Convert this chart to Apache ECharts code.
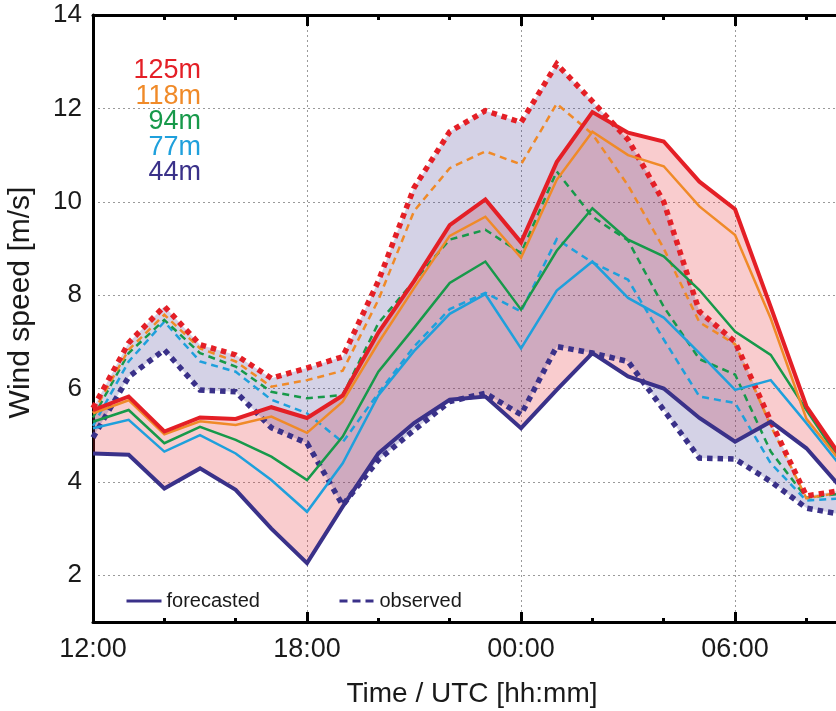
<!DOCTYPE html>
<html>
<head>
<meta charset="utf-8">
<script src="https://cdn.jsdelivr.net/npm/echarts@6/dist/echarts.min.js"></script>
<style>
html, body { margin: 0; padding: 0; background: #fff; }
#main { width: 836px; height: 711px; }
</style>
</head>
<body>
<div id="main"></div>
<script>
// time stamps (UTC), hourly
var times = ['12:00', '13:00', '14:00', '15:00', '16:00', '17:00', '18:00', '19:00', '20:00', '21:00', '22:00',
   '23:00', '00:00', '01:00', '02:00', '03:00', '04:00', '05:00', '06:00', '07:00', '08:00', '09:00'];
var yTicks = [2, 4, 6, 8, 10, 12, 14];
var heights = ['125m', '118m', '94m', '77m', '44m'];
var colors = ['#e41f26', '#f08a28', '#17994a', '#1fa0dc', '#3a3189'];

// forecasted wind speed [m/s]
var fc125 = [5.54, 5.83, 5.08, 5.38, 5.35, 5.6, 5.37, 5.85, 7.2, 8.3, 9.5, 10.05, 9.13, 10.85, 11.92, 11.48, 11.29, 10.43, 9.84, 7.75, 5.62, 4.5];
var fc118 = [5.47, 5.75, 5.02, 5.3, 5.22, 5.4, 5.05, 5.72, 6.98, 8.15, 9.27, 9.68, 8.8, 10.47, 11.5, 11.0, 10.76, 9.9, 9.29, 7.5, 5.35, 4.4];
var fc94 = [5.29, 5.54, 4.83, 5.18, 4.9, 4.54, 4.04, 4.97, 6.36, 7.3, 8.26, 8.72, 7.69, 8.95, 9.86, 9.19, 8.83, 8.11, 7.22, 6.72, 5.54, 4.4];
var fc77 = [5.15, 5.33, 4.65, 5.0, 4.61, 4.04, 3.36, 4.4, 5.85, 6.8, 7.6, 8.02, 6.86, 8.1, 8.72, 7.94, 7.52, 6.76, 5.97, 6.18, 5.26, 4.3];
var fc44 = [4.61, 4.58, 3.86, 4.29, 3.83, 3.0, 2.26, 3.47, 4.61, 5.26, 5.76, 5.83, 5.15, 5.97, 6.76, 6.26, 6.0, 5.37, 4.86, 5.29, 4.72, 3.85];

// observed wind speed [m/s]
var obs125 = [5.58, 6.98, 7.76, 6.94, 6.72, 6.22, 6.44, 6.68, 8.3, 10.3, 11.5, 11.95, 11.7, 12.95, 12.15, 11.33, 10.0, 7.65, 7.0, 5.3, 3.7, 3.82];
var obs118 = [5.48, 6.83, 7.58, 6.86, 6.58, 6.04, 6.18, 6.38, 7.9, 9.8, 10.72, 11.08, 10.8, 12.1, 11.45, 10.35, 9.0, 7.42, 6.95, 5.2, 3.65, 3.78];
var obs94 = [5.38, 6.76, 7.47, 6.76, 6.47, 5.93, 5.79, 5.86, 7.4, 8.3, 9.19, 9.4, 8.9, 10.65, 9.68, 9.17, 7.75, 6.63, 6.3, 4.65, 3.66, 3.75];
var obs77 = [5.2, 6.58, 7.43, 6.58, 6.36, 5.76, 5.47, 4.85, 5.9, 6.9, 7.7, 8.05, 7.65, 9.2, 8.7, 8.33, 7.05, 5.83, 5.69, 4.4, 3.6, 3.65];
var obs44 = [4.95, 6.25, 6.83, 5.97, 5.93, 5.16, 4.83, 3.5, 4.47, 5.11, 5.72, 5.9, 5.44, 6.9, 6.76, 6.58, 5.54, 4.51, 4.49, 4.01, 3.44, 3.3];

var FONT = 'Liberation Sans, Arial, sans-serif';

// hours after 12:00
var hrs = times.map(function (t) {
   var h = parseInt(t.split(':')[0], 10);
   return (h + 12) % 24;
});

function pairs(vals) {
   return vals.map(function (v, i) { return [hrs[i], v]; });
}

// shaded band between two curves
function band(upper, lower, fill) {
   return {
      type: 'custom',
      silent: true,
      data: [[hrs[0], lower[0]]],
      renderItem: function (params, api) {
         var pts = [];
         for (var i = 0; i < hrs.length; i++) pts.push(api.coord([hrs[i], upper[i]]));
         for (var j = hrs.length - 1; j >= 0; j--) pts.push(api.coord([hrs[j], lower[j]]));
         return { type: 'polygon', shape: { points: pts }, style: { fill: fill } };
      }
   };
}

function line(name, vals, color, width, dash) {
   return {
      name: name,
      type: 'line',
      data: pairs(vals),
      symbol: 'none',
      silent: true,
      lineStyle: { color: color, width: width, type: dash || 'solid', cap: 'butt', join: 'miter' }
   };
}

function timeLabel(v) {
   var h = (12 + v) % 24;
   return (h < 10 ? '0' : '') + h + ':00';
}

var chart = echarts.init(document.getElementById('main'));

var xMax = 21.25;
var tickAxis = function (pos, interval, len, showLine) {
   return {
      type: 'value', position: pos, min: 0, max: xMax, interval: interval,
      axisLine: { show: showLine, onZero: false, lineStyle: { color: '#000', width: 3 } },
      axisTick: { inside: true, length: len, lineStyle: { color: '#000', width: 3 } },
      axisLabel: { show: false },
      splitLine: { show: false }
   };
};

var mainX = tickAxis('bottom', 6, 10, true);
mainX.axisLabel = {
   show: true, formatter: timeLabel, showMaxLabel: false, fontSize: 27, fontFamily: FONT,
   color: '#1a1a1a', margin: 14
};
mainX.splitLine = { show: true, lineStyle: { type: [2, 3], color: '#9a9a9a', width: 1 } };
mainX.name = 'Time / UTC [hh:mm]';
mainX.nameLocation = 'middle';
mainX.nameGap = 58;
mainX.nameTextStyle = { fontSize: 28, fontFamily: FONT, color: '#1a1a1a' };

var legendItem = function (name, dash, left) {
   return {
      left: left, top: 591, padding: 0, itemWidth: 35, itemHeight: 14, itemGap: 0,
      textStyle: { fontSize: 20, fontFamily: FONT, color: '#1a1a1a' },
      data: [{
         name: name,
         itemStyle: { color: 'rgba(0,0,0,0)', opacity: 0, borderWidth: 0 },
         lineStyle: { color: colors[4], width: 3, type: dash }
      }]
   };
};

var option = {
   animation: false,
   backgroundColor: '#fff',
   grid: { left: 93, width: 758, top: 15, bottom: 89, containLabel: false, outerBoundsMode: 'none' },
   xAxis: [
      mainX,
      tickAxis('bottom', 2, 4, false),
      tickAxis('top', 6, 11, true),
      tickAxis('top', 2, 5, false)
   ],
   yAxis: {
      type: 'value', min: 1, max: 14,
      axisLine: { show: true, onZero: false, lineStyle: { color: '#000', width: 3 } },
      axisTick: { show: false, customValues: yTicks },
      axisLabel: { customValues: yTicks, fontSize: 26, fontFamily: FONT, color: '#1a1a1a', margin: 11 },
      splitLine: { show: true, lineStyle: { type: [2, 3], color: '#9a9a9a', width: 1 } },
      name: 'Wind speed [m/s]',
      nameLocation: 'middle',
      nameGap: 57,
      nameTextStyle: { fontSize: 30, fontFamily: FONT, color: '#1a1a1a', padding: [0, 0, 0, 32] }
   },
   legend: [legendItem('forecasted', 'solid', 125), legendItem('observed', [8, 5], 338)],
   graphic: heights.map(function (h, i) {
      return {
         type: 'text',
         style: {
            text: h, x: 201, y: 71 + i * 25.5, align: 'right', verticalAlign: 'middle',
            fontSize: 27, fontFamily: FONT, fill: colors[i]
         }
      };
   }),
   series: [
      band(fc125, fc44, 'rgba(232, 40, 50, 0.24)'),
      band(obs125, obs44, 'rgba(58, 52, 140, 0.22)'),
      line('obs77', obs77, colors[3], 2.5, [7, 5]),
      line('obs94', obs94, colors[2], 2.5, [7, 5]),
      line('obs118', obs118, colors[1], 2.5, [7, 5]),
      line('observed', obs44, colors[4], 5.5, [5.5, 5]),
      line('obs125', obs125, colors[0], 5.5, [5.5, 5]),
      line('fc77', fc77, colors[3], 2.5),
      line('fc94', fc94, colors[2], 2.5),
      line('fc118', fc118, colors[1], 2.5),
      line('forecasted', fc44, colors[4], 4),
      line('fc125', fc125, colors[0], 4)
   ]
};

chart.setOption(option);
</script>
</body>
</html>
